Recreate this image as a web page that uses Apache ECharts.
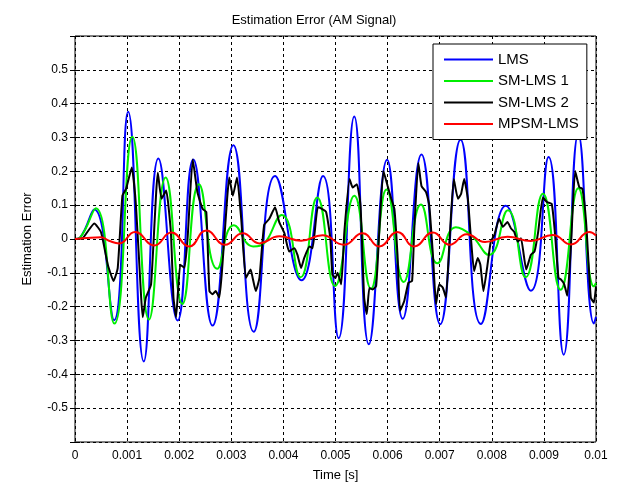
<!DOCTYPE html>
<html>
<head>
<meta charset="utf-8">
<script src="https://cdn.jsdelivr.net/npm/echarts@6/dist/echarts.min.js"></script>
<style>
html,body{margin:0;padding:0;background:#fff;}
#c{width:628px;height:487px;}
</style>
</head>
<body>
<div id="c"></div>
<script>
// time values in milliseconds, converted to seconds for the axis
const seriesNames = ['LMS', 'SM-LMS 1', 'SM-LMS 2', 'MPSM-LMS'];
const xTicks = [0, 0.001, 0.002, 0.003, 0.004, 0.005, 0.006, 0.007, 0.008, 0.009, 0.01];
const yTicks = [-0.5, -0.4, -0.3, -0.2, -0.1, 0, 0.1, 0.2, 0.3, 0.4, 0.5];

const lmsData = [[0,0],[0.1,0.005],[0.37,0.087],[0.75,-0.24],[1.02,0.376],[1.32,-0.362],[1.6,0.238],[1.97,-0.241],[2.27,0.235],[2.64,-0.256],[3.04,0.277],[3.43,-0.274],[3.84,0.186],[4.35,-0.122],[4.76,0.186],[5.06,-0.293],[5.36,0.362],[5.64,-0.311],[5.99,0.234],[6.29,-0.236],[6.65,0.25],[7.01,-0.252],[7.4,0.293],[7.79,-0.251],[8.27,0.098],[8.75,-0.153],[9.09,0.242],[9.38,-0.342],[9.66,0.31],[9.96,-0.25],[10,-0.23]];

const sm1Data = [[0,0],[0.1,0.005],[0.4,0.091],[0.755,-0.25],[1.1,0.302],[1.42,-0.238],[1.74,0.182],[2.06,-0.192],[2.38,0.162],[2.73,-0.088],[3.05,0.041],[3.42,-0.022],[3.55,-0.02],[3.97,0.071],[4.33,-0.113],[4.65,0.123],[4.99,-0.139],[5.36,0.128],[5.68,-0.147],[5.98,0.146],[6.31,-0.127],[6.64,0.102],[6.96,-0.072],[7.31,0.035],[7.6,0.012],[7.95,-0.047],[8.31,0.085],[8.65,-0.113],[8.98,0.134],[9.32,-0.15],[9.66,0.15],[9.96,-0.14],[10,-0.13]];

const sm2Data = [[0,0],[0.15,0.003],[0.37,0.046],[0.5,0.02],[0.63,-0.076],[0.74,-0.124],[0.82,-0.086],[0.91,0.128],[0.98,0.148],[1.09,0.211],[1.17,0.099],[1.27,-0.173],[1.3,-0.231],[1.36,-0.173],[1.46,-0.134],[1.59,0.196],[1.66,0.119],[1.75,0.143],[1.84,0.02],[1.89,-0.173],[1.94,-0.231],[2.02,-0.076],[2.1,-0.085],[2.16,0.0],[2.26,0.235],[2.35,0.138],[2.45,0.089],[2.52,0.08],[2.58,-0.154],[2.64,-0.163],[2.7,-0.154],[2.77,-0.173],[2.83,-0.076],[2.92,0.119],[2.96,0.182],[3.03,0.128],[3.11,0.182],[3.19,0.06],[3.28,-0.115],[3.37,-0.09],[3.41,-0.115],[3.47,-0.154],[3.54,-0.115],[3.63,0.041],[3.73,0.06],[3.84,0.094],[3.92,0.05],[4.02,0.017],[4.11,-0.037],[4.21,-0.027],[4.27,-0.047],[4.34,-0.086],[4.4,-0.056],[4.5,-0.022],[4.56,-0.027],[4.66,0.094],[4.73,0.09],[4.82,0.08],[4.9,0.002],[4.94,-0.105],[5.0,-0.115],[5.04,-0.1],[5.11,-0.134],[5.17,0.021],[5.27,0.177],[5.33,0.152],[5.41,0.162],[5.48,0.099],[5.55,-0.173],[5.6,-0.222],[5.65,-0.145],[5.71,-0.149],[5.78,-0.139],[5.84,0.021],[5.92,0.201],[6.0,0.157],[6.07,0.119],[6.13,0.089],[6.19,-0.047],[6.24,-0.212],[6.32,-0.183],[6.4,-0.129],[6.47,-0.124],[6.51,0.021],[6.59,0.225],[6.65,0.157],[6.74,0.138],[6.8,0.099],[6.87,-0.047],[6.93,-0.192],[6.99,-0.134],[7.06,-0.144],[7.12,-0.173],[7.19,0.0],[7.27,0.177],[7.35,0.119],[7.41,0.133],[7.47,0.177],[7.54,0.119],[7.6,0.002],[7.66,-0.095],[7.73,-0.056],[7.78,-0.076],[7.84,-0.154],[7.91,-0.085],[7.98,-0.008],[8.05,0.012],[8.14,0.06],[8.21,0.036],[8.3,0.05],[8.37,0.031],[8.43,0.021],[8.5,-0.008],[8.56,0.002],[8.66,-0.09],[8.75,-0.047],[8.82,-0.037],[8.89,0.021],[8.98,0.123],[9.06,0.109],[9.15,0.104],[9.21,0.021],[9.28,-0.115],[9.33,-0.12],[9.39,-0.134],[9.45,-0.168],[9.52,-0.017],[9.6,0.201],[9.68,0.153],[9.74,0.148],[9.81,0.05],[9.9,-0.173],[9.96,-0.188],[10,-0.14]];

const mpsmData = [[0,0],[0.3,0.004],[0.5,0.005],[0.65,-0.005],[0.85,-0.013],[1.15,0.021],[1.52,-0.019],[1.85,0.019],[2.19,-0.022],[2.52,0.025],[2.88,-0.017],[3.22,0.017],[3.54,-0.013],[3.92,0.008],[4.34,-0.005],[4.75,0.011],[5.16,-0.017],[5.52,0.017],[5.84,-0.022],[6.19,0.021],[6.51,-0.022],[6.87,0.019],[7.19,-0.017],[7.52,0.014],[7.87,-0.009],[8.3,0.007],[8.75,-0.006],[9.17,0.012],[9.52,-0.016],[9.87,0.021],[10,0.01]];

const toSec = arr => arr.map(p => [p[0] / 1000, p[1]]);
const FONT = 'Liberation Sans, Arial, Helvetica, sans-serif';

function fmtX(v) {
  const r = Math.round(v * 1000) / 1000;
  return xTicks.some(t => Math.abs(t - r) < 1e-9) ? String(r) : '';
}
function fmtY(v) {
  const r = Math.round(v * 10) / 10;
  return yTicks.some(t => Math.abs(t - r) < 1e-9) ? String(r) : '';
}

const chart = echarts.init(document.getElementById('c'), null, {renderer: 'canvas'});
const axisCommon = {
  axisLine: {show: false},
  axisTick: {show: true, inside: true, length: 5, lineStyle: {color: '#000', width: 1}},
};
chart.setOption({
  animation: false,
  backgroundColor: '#fff',
  title: {
    text: 'Estimation Error (AM Signal)',
    left: 'center', top: 9,
    textStyle: {fontFamily: FONT, fontSize: 13, fontWeight: 'normal', color: '#000'}
  },
  grid: {left: 75, right: 32, top: 36, bottom: 40, show: true, borderColor: '#000', borderWidth: 1, backgroundColor: '#fff'},
  legend: {
    data: seriesNames,
    orient: 'vertical',
    left: 433, top: 44,
    padding: [8, 8, 8, 10],
    itemWidth: 49, itemHeight: 15, itemGap: 6.5,
    itemStyle: {opacity: 0},
    backgroundColor: '#fff',
    borderColor: '#000', borderWidth: 1,
    textStyle: {fontFamily: FONT, fontSize: 15, color: '#000'}
  },
  xAxis: [{
    type: 'value', min: 0, max: 0.01, interval: 0.001,
    ...axisCommon,
    axisLabel: {formatter: fmtX, fontFamily: FONT, fontSize: 12, color: '#000', margin: 8},
    splitLine: {show: true, lineStyle: {color: '#000', type: [3, 3], width: 1}},
    name: 'Time [s]', nameLocation: 'middle', nameGap: 27,
    nameTextStyle: {fontFamily: FONT, fontSize: 13, color: '#000'}
  }, {
    type: 'value', position: 'top', min: 0, max: 0.01, interval: 0.001,
    ...axisCommon,
    axisLabel: {show: false}, splitLine: {show: false}
  }],
  yAxis: [{
    type: 'value', min: -0.6, max: 0.6, interval: 0.1,
    ...axisCommon,
    axisLabel: {formatter: fmtY, fontFamily: FONT, fontSize: 12, color: '#000', margin: 7},
    splitLine: {show: true, lineStyle: {color: '#000', type: [3, 3], width: 1}},
    name: 'Estimation Error', nameLocation: 'middle', nameGap: 41,
    nameTextStyle: {fontFamily: FONT, fontSize: 13, color: '#000'}
  }, {
    type: 'value', position: 'right', min: -0.6, max: 0.6, interval: 0.1,
    ...axisCommon,
    axisLabel: {show: false}, splitLine: {show: false}
  }],
  series: [
    {name: 'LMS', type: 'line', data: toSec(lmsData), smooth: 0.5, symbol: 'none', lineStyle: {color: '#0000ff', width: 2}, itemStyle: {color: '#0000ff'}},
    {name: 'SM-LMS 1', type: 'line', data: toSec(sm1Data), smooth: 0.5, symbol: 'none', lineStyle: {color: '#00ee00', width: 2}, itemStyle: {color: '#00ee00'}},
    {name: 'SM-LMS 2', type: 'line', data: toSec(sm2Data), smooth: 0.15, symbol: 'none', lineStyle: {color: '#000000', width: 2}, itemStyle: {color: '#000000'}},
    {name: 'MPSM-LMS', type: 'line', data: toSec(mpsmData), smooth: 0.5, symbol: 'none', lineStyle: {color: '#ff0000', width: 2}, itemStyle: {color: '#ff0000'}}
  ]
});
</script>
</body>
</html>
